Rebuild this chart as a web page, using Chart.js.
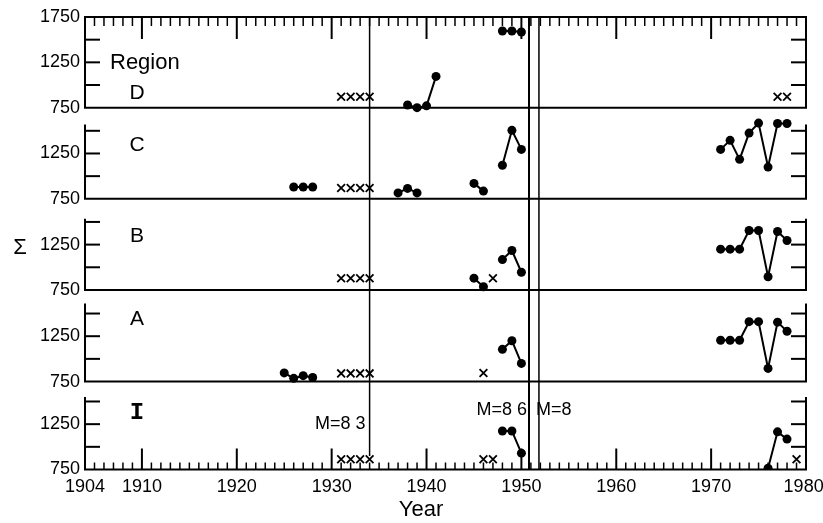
<!DOCTYPE html>
<html>
<head>
<meta charset="utf-8">
<script src="https://cdn.jsdelivr.net/npm/chart.js@4.4.0/dist/chart.umd.min.js"></script>
<style>
    html, body { margin: 0; padding: 0; background: #fff; }
</style>
</head>
<body>
<canvas id="regionChart" width="823" height="523"></canvas>
<script>
// Region D
const dYears = [1938, 1939, 1940, 1941, 1948, 1949, 1950];
const dValues = [780, 750, 770, 1095, 1595, 1595, 1585];
const dCrossYears = [1931, 1932, 1933, 1934, 1977, 1978];
const dCrossValues = [870, 870, 870, 870, 870, 870];

// Region C
const cYears = [1926, 1927, 1928, 1937, 1938, 1939, 1945, 1946, 1948, 1949, 1950,
                1971, 1972, 1973, 1974, 1975, 1976, 1977, 1978];
const cValues = [880, 880, 880, 815, 865, 815, 920, 835, 1120, 1505, 1295,
                 1295, 1395, 1185, 1475, 1585, 1100, 1580, 1580];
const cCrossYears = [1931, 1932, 1933, 1934];
const cCrossValues = [870, 870, 870, 870];

// Region B
const bYears = [1945, 1946, 1948, 1949, 1950, 1971, 1972, 1973, 1974, 1975, 1976, 1977, 1978];
const bValues = [880, 785, 1085, 1185, 945, 1200, 1200, 1200, 1405, 1405, 895, 1395, 1295];
const bCrossYears = [1931, 1932, 1933, 1934, 1947];
const bCrossValues = [880, 880, 880, 880, 880];

// Region A
const aYears = [1925, 1926, 1927, 1928, 1948, 1949, 1950, 1971, 1972, 1973, 1974, 1975, 1976, 1977, 1978];
const aValues = [845, 785, 815, 795, 1105, 1200, 950, 1205, 1205, 1205, 1410, 1410, 895, 1405, 1305];
const aCrossYears = [1931, 1932, 1933, 1934, 1946];
const aCrossValues = [840, 840, 840, 840, 845];

// Region I
const iYears = [1948, 1949, 1950, 1976, 1977, 1978];
const iValues = [1175, 1175, 930, 765, 1165, 1085];
const iCrossYears = [1931, 1932, 1933, 1934, 1946, 1947, 1979];
const iCrossValues = [862, 862, 862, 862, 862, 862, 862];

// 큰 지진 (세로선)
const quakeYears = [1934.0, 1950.8, 1951.85];
const quakeLabels = ["M=8 3", "M=8 6", "M=8"];

const regionNames = ["D", "C", "B", "A", "I"];
const xTicks = [1904, 1910, 1920, 1930, 1940, 1950, 1960, 1970, 1980];
const panelTicks = [1000, 1250, 1500];

// 패널 배치 (전체 y 좌표에서의 오프셋)
const offsets = [3990, 2985, 1980, 970, 0];
const panelTops = [1750, 1570, 1535, 1610, 1550];
const yMax = offsets[0] + 1000;
const g = (i, v) => offsets[i] + v - 750;

const yLabels = new Map();
[[1750, 1250, 750], [1250, 750], [1250, 750], [1250, 750], [1250, 750]].forEach((vals, i) => {
    vals.forEach(v => yLabels.set(g(i, v), String(v)));
});

const FONT = '"Liberation Sans", Arial, sans-serif';

function series(years, values, i) {
    return {
        data: years.map((yr, k) => ({x: yr, y: g(i, values[k])})),
        borderColor: "#000",
        backgroundColor: "#000",
        borderWidth: 2,
        pointRadius: 4.5,
        pointBorderWidth: 0,
        tension: 0,
        segment: {
            // 연속된 해만 선으로 연결
            borderColor: ctx => (ctx.p1.parsed.x - ctx.p0.parsed.x > 1.5 ? "rgba(0,0,0,0)" : "#000")
        }
    };
}

function crosses(years, values, i) {
    return {
        data: years.map((yr, k) => ({x: yr, y: g(i, values[k])})),
        showLine: false,
        pointStyle: "crossRot",
        pointRadius: 5.5,
        borderColor: "#000",
        pointBorderWidth: 1.8
    };
}

function quakeLine(k) {
    const bottom = k === 0 ? g(4, 900) : 0;
    return {
        data: [{x: quakeYears[k], y: yMax}, {x: quakeYears[k], y: bottom}],
        borderColor: "#000",
        borderWidth: k === 1 ? 2 : 1.5,
        pointRadius: 0
    };
}

const datasets = [
    series(dYears, dValues, 0), crosses(dCrossYears, dCrossValues, 0),
    series(cYears, cValues, 1), crosses(cCrossYears, cCrossValues, 1),
    series(bYears, bValues, 2), crosses(bCrossYears, bCrossValues, 2),
    series(aYears, aValues, 3), crosses(aCrossYears, aCrossValues, 3),
    series(iYears, iValues, 4), crosses(iCrossYears, iCrossValues, 4),
    quakeLine(0), quakeLine(1), quakeLine(2)
];

// 패널 테두리, 눈금, 글자
const panelPlugin = {
    id: "panelFrames",
    afterDraw(chart) {
        const {ctx, chartArea: area, scales: {x, y}} = chart;
        const line = (x1, y1, x2, y2) => {
            ctx.beginPath();
            ctx.moveTo(x1, y1);
            ctx.lineTo(x2, y2);
            ctx.stroke();
        };
        ctx.save();
        ctx.strokeStyle = "#000";
        ctx.lineCap = "butt";

        const top = y.getPixelForValue(yMax);
        const bottom = y.getPixelForValue(0);
        ctx.lineWidth = 2;
        line(area.left - 1, top, area.right + 1, top);

        for (let yr = 1905; yr < 1980; yr++) {
            const px = x.getPixelForValue(yr);
            const major = yr % 10 === 0;
            ctx.lineWidth = major ? 2 : 1.5;
            line(px, top, px, top + (major ? 22 : 9));
            line(px, bottom, px, bottom - (major ? 21 : 7));
        }

        offsets.forEach((off, i) => {
            const base = y.getPixelForValue(g(i, 750));
            const ptop = y.getPixelForValue(g(i, panelTops[i]));
            ctx.lineWidth = 2;
            line(area.left - 1, base, area.right + 1, base);
            line(area.left, ptop, area.left, base);
            line(area.right, ptop, area.right, base);
            panelTicks.forEach(v => {
                const py = y.getPixelForValue(g(i, v));
                line(area.left, py, area.left + 15, py);
                line(area.right, py, area.right - 15, py);
            });
        });

        ctx.fillStyle = "#000";
        ctx.textBaseline = "middle";
        ctx.textAlign = "left";
        ctx.font = "22px " + FONT;
        ctx.fillText("Region", area.left + 25, y.getPixelForValue(g(0, 1244)));

        const letterY = [913, 1342, 1345, 1436, 1370];
        ctx.textAlign = "center";
        regionNames.forEach((name, i) => {
            ctx.font = i === 4 ? 'bold 24px "Liberation Mono", monospace' : "21px " + FONT;
            ctx.fillText(name, area.left + 52, y.getPixelForValue(g(i, letterY[i])));
        });

        ctx.font = "18px " + FONT;
        ctx.textAlign = "right";
        ctx.fillText(quakeLabels[0], x.getPixelForValue(quakeYears[0]) - 4, y.getPixelForValue(g(4, 1252)));
        ctx.fillText(quakeLabels[1], x.getPixelForValue(quakeYears[1]) - 2, y.getPixelForValue(g(4, 1406)));
        ctx.textAlign = "left";
        ctx.fillText(quakeLabels[2], x.getPixelForValue(quakeYears[2]) - 3, y.getPixelForValue(g(4, 1406)));

        // 축 제목
        ctx.font = "22px " + FONT;
        ctx.textAlign = "center";
        ctx.fillText("Σ", 20, y.getPixelForValue(g(2, 1215)));
        ctx.fillText("Year", 421, 510);
        ctx.restore();
    }
};

new Chart(document.getElementById("regionChart"), {
    type: "line",
    data: {datasets: datasets},
    options: {
        responsive: false,
        animation: false,
        layout: {padding: {top: 17, right: 17, left: 0, bottom: 0}},
        plugins: {
            legend: {display: false},
            tooltip: {enabled: false}
        },
        scales: {
            x: {
                type: "linear",
                min: 1904,
                max: 1980,
                // 마지막 라벨은 캔버스 안에 들어오도록 살짝 왼쪽에
                afterBuildTicks: s => {
                    s.ticks = xTicks.map(v => ({value: v === 1980 ? 1979.75 : v}));
                },
                afterFit: s => { s.height = 53.5; s.paddingLeft = 0; s.paddingRight = 0; },
                ticks: {
                    autoSkip: false,
                    maxRotation: 0,
                    padding: 7,
                    color: "#000",
                    font: {size: 18, family: FONT},
                    callback: (v, idx) => String(xTicks[idx])
                },
                grid: {display: false, drawTicks: false, tickLength: 0},
                border: {display: false}
            },
            y: {
                type: "linear",
                min: 0,
                max: yMax,
                afterBuildTicks: s => { s.ticks = [...yLabels.keys()].map(v => ({value: v})); },
                afterFit: s => { s.width = 85; s.paddingTop = 0; s.paddingBottom = 0; },
                ticks: {
                    autoSkip: false,
                    padding: 5,
                    color: "#000",
                    font: {size: 18, family: FONT},
                    callback: v => yLabels.get(v)
                },
                grid: {display: false, drawTicks: false, tickLength: 0},
                border: {display: false}
            }
        }
    },
    plugins: [panelPlugin]
});
</script>
</body>
</html>
